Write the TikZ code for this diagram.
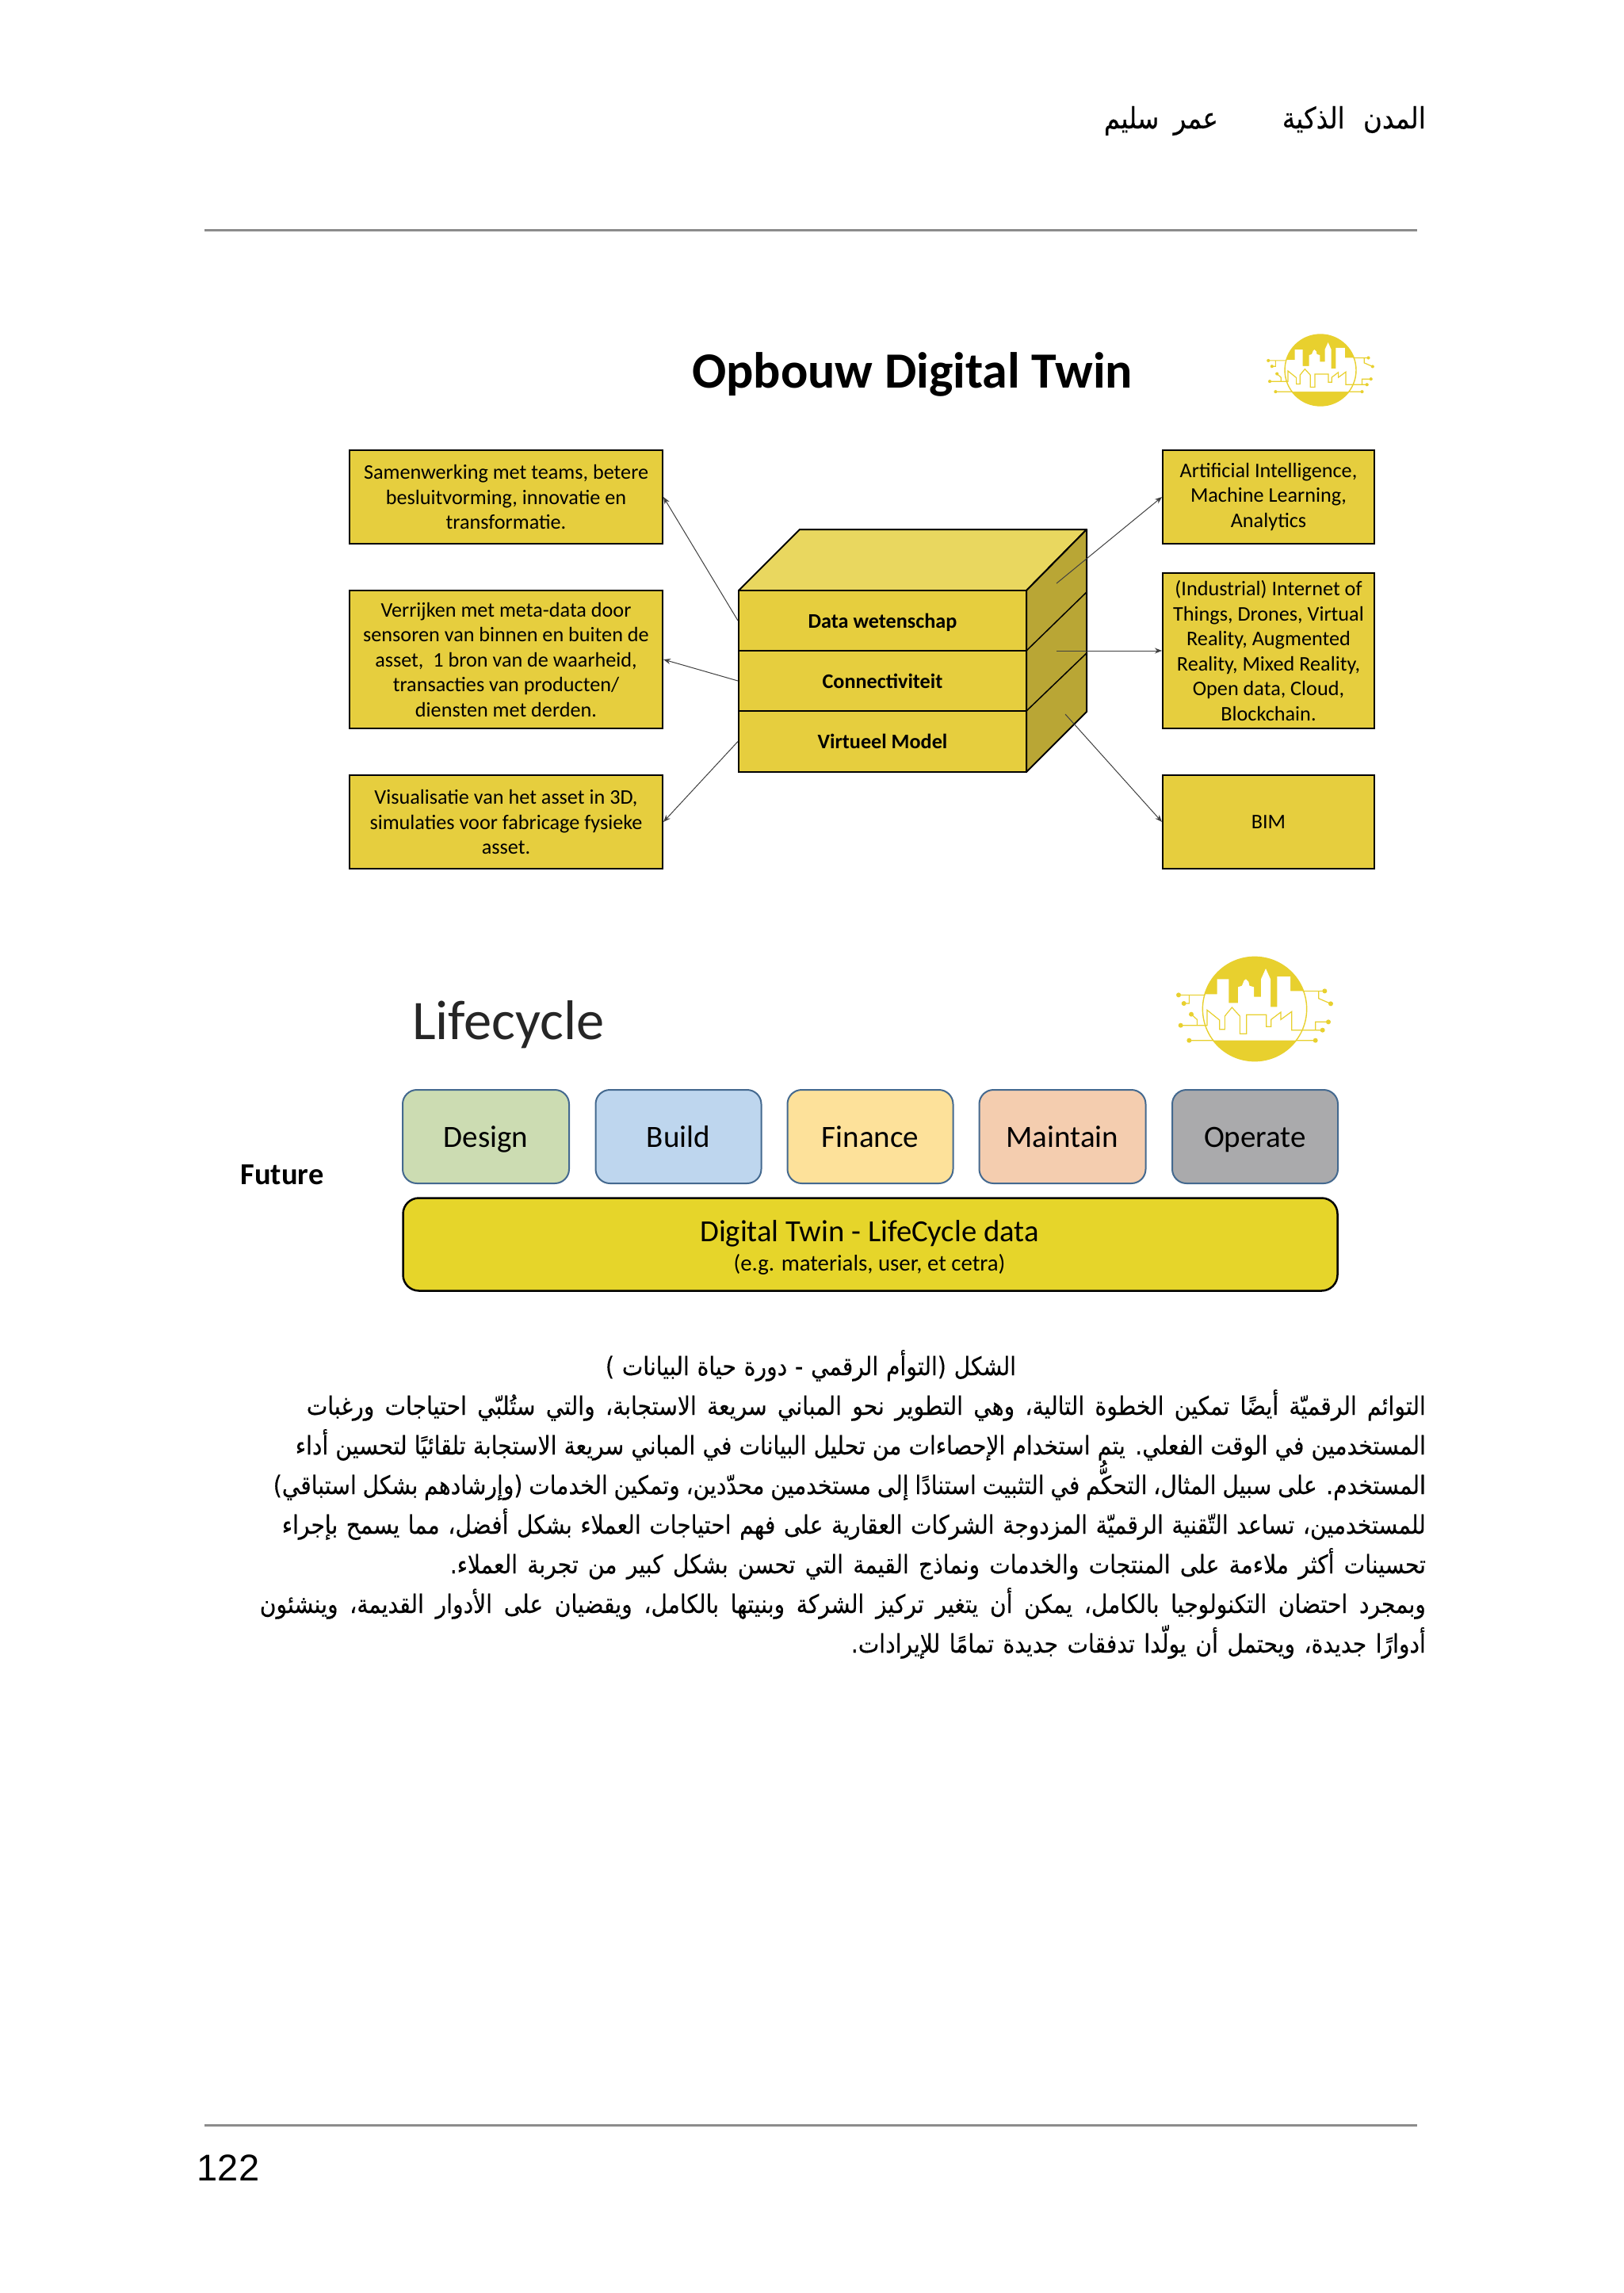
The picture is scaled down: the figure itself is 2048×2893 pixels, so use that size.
\documentclass[tikz,border=0pt]{standalone}
\usepackage{fontspec}
\usepackage{graphicx}
\usetikzlibrary{arrows.meta}
\setmainfont{Carlito}
\newfontfamily\arabicfont[Script=Arabic,FakeStretch=0.88,FakeBold=0.25]{DejaVu Sans}
\newfontfamily\numfont{Liberation Sans}
\TeXXeTstate=1
\hbadness=10000
\definecolor{boxyellow}{HTML}{E6CE3E}
\definecolor{topyellow}{HTML}{E9D75F}
\definecolor{sideyellow}{HTML}{B9A635}
\definecolor{logoyellow}{HTML}{E8D02E}
\definecolor{dtyellow}{HTML}{E6D52A}
\definecolor{rulegray}{HTML}{8C8C8C}
\definecolor{bluegray}{HTML}{44698F}
\tikzset{
  infobox/.style={draw=black,line width=2pt,fill=boxyellow,align=center,inner sep=0pt,text=black,
    font=\fontsize{26.2}{31.5}\selectfont},
  layerbox/.style={draw=black,line width=2pt,fill=boxyellow,inner sep=0pt,minimum width=363pt,
    text height=21pt,text depth=3pt,font=\bfseries\fontsize{26.2}{31}\selectfont},
  phasebox/.style={draw=bluegray,line width=2pt,rounded corners=18pt,inner sep=0pt,minimum height=118pt,
    text height=31pt,text depth=5pt,font=\fontsize{39}{46}\selectfont},
  linker/.style={draw=black!75,line width=1pt,-{Stealth[length=9pt,width=7pt]}},
  rulerline/.style={draw=rulegray,line width=3pt},
  arabicline/.style={inner sep=0pt,anchor=base east,text=black}
}
% {name}{baseline y}{width}{font size}{text}
\newcommand{\arline}[5]{\node[arabicline] (#1) at (1799,#2) {\hbox to #3pt{\fontsize{#4}{#4}\selectfont\arabicfont #5}};}
\newcommand{\citylogo}[3]{%
\begin{scope}[shift={(#1,#2)},scale=#3,line join=miter]
  \fill[logoyellow] (0,0) circle (197);
  \begin{scope}
    \clip (0,0) circle (197);
    \fill[white] (-200,-56) -- (-142,-56) -- (-142,-113) -- (-98,-113) -- (-98,-23) -- (-63,-23) -- (-63,-83) -- (-48,-88) -- (-40,-108) -- (-33,-113) -- (-23,-103) -- (-20,-88) -- (-3,-83) -- (-3,-46) -- (24,-46) -- (24,-113) -- (42,-153) -- (60,-113) -- (60,-8) -- (85,-8) -- (85,-123) -- (135,-123) -- (135,-68) -- (200,-68) -- (200,119) -- (-200,119) -- cycle;
  \end{scope}
  \draw[logoyellow,line width=1.4pt] (0,0) circle (197);
  \draw[logoyellow,line width=1.2pt]
    (-280,62) -- (-180,62) -- (-180,4) -- (-133,42) -- (-133,77) -- (-113,77) -- (-113,27) -- (-86,-6) -- (-56,27) -- (-56,94) -- (-31,94) -- (-31,22) -- (44,22) -- (44,67) -- (62,67) -- (62,40) -- (99,12) -- (99,40) -- (140,10) -- (140,80) -- (257,80)
    (-288,-53) -- (-188,-53)
    (-248,-53) -- (-248,-21) -- (-268,-21)
    (-240,20) -- (-218,40) -- (-218,62)
    (-248,119) -- (-158,119)
    (157,119) -- (230,119)
    (182,-68) -- (265,-68)
    (242,-68) -- (242,-40) -- (288,-20)
    (230,80) -- (230,49) -- (279,49);
  \foreach \p/\q in {-288/-53,-268/-21,-240/20,-280/62,-248/119,230/119,265/-68,288/-20,279/49,257/80}
    \fill[logoyellow] (\p,\q) circle (9);
\end{scope}}
\begin{document}
\begin{tikzpicture}[x=1pt,y=-1pt]
\fill[white,use as bounding box] (0,0) rectangle (2048,2893);

% page furniture
\arline{hdrA}{162}{181}{37}{\beginR المدن الذكية\endR}
\node[arabicline] (hdrC) at (1537,162) {\hbox to 144pt{\fontsize{37}{37}\selectfont\arabicfont\beginR عمر سليم\endR}};
\coordinate (ruleTopL) at (258,290);
\coordinate (ruleTopR) at (1788,290);
\draw[rulerline] (ruleTopL) -- (ruleTopR);
\coordinate (ruleBotL) at (258,2681);
\coordinate (ruleBotR) at (1788,2681);
\draw[rulerline] (ruleBotL) -- (ruleBotR);
\node[inner sep=0pt,font=\numfont\fontsize{47}{50}\selectfont] (pagenum) at (288,2735) {122};

% title
\node[inner sep=0pt,font=\bfseries\fontsize{64}{70}\selectfont] (title) at (1151,472) {Opbouw Digital Twin};
\citylogo{1666}{467}{0.2284}

% left boxes
\node[infobox,minimum width=395pt,minimum height=118pt] (b1) at (638.5,627) {Samenwerking met teams, betere\\besluitvorming, innovatie en\\transformatie.};
\node[infobox,minimum width=395pt,minimum height=174pt] (b2) at (638.5,832) {Verrijken met meta-data door\\sensoren van binnen en buiten de\\asset,\ \ 1 bron van de waarheid,\\transacties van producten/\\diensten met derden.};
\node[infobox,minimum width=395pt,minimum height=118pt] (b3) at (638.5,1037) {Visualisatie van het asset in 3D,\\simulaties voor fabricage fysieke\\asset.};

% right boxes
\node[infobox,minimum width=267pt,minimum height=118pt] (r1) at (1600.5,627) {Artificial Intelligence,\\Machine Learning,\\Analytics};
\node[infobox,minimum width=267pt,minimum height=196pt] (r2) at (1600.5,821) {(Industrial) Internet of\\Things, Drones, Virtual\\Reality, Augmented\\Reality, Mixed Reality,\\Open data, Cloud,\\Blockchain.};
\node[infobox,minimum width=267pt,minimum height=118pt] (r3) at (1600.5,1037) {BIM};

% cube
\draw[black,line width=2pt,fill=topyellow,line join=round] (932,745) -- (1009,668) -- (1371,668) -- (1295,745) -- cycle;
\draw[black,line width=2pt,fill=sideyellow,line join=round] (1295,745) -- (1371,668) -- (1371,898) -- (1295,974) -- cycle;
\draw[black,line width=1.5pt] (1295,821) -- (1371,747) (1295,897) -- (1371,824);
\node[layerbox,minimum height=76pt] (dw) at (1113.5,783) {Data wetenschap};
\node[layerbox,minimum height=76pt] (con) at (1113.5,859) {Connectiviteit};
\node[layerbox,minimum height=77pt] (vm) at (1113.5,935.5) {Virtueel Model};

% connectors
\coordinate (sideA) at (1333,736);
\coordinate (sideB) at (1333,821);
\coordinate (sideC) at (1344,901);
\draw[linker] (dw.west) -- (b1.east);
\draw[linker] (con.west) -- (b2.east);
\draw[linker] (vm.west) -- (b3.east);
\draw[linker] (sideA) -- (r1.west);
\draw[linker] (sideB) -- (r2.west);
\draw[linker] (sideC) -- (r3.west);

% lifecycle
\node[inner sep=0pt,anchor=west,font=\fontsize{70.5}{80}\selectfont,text=black!85] (lifecycle) at (520,1293) {Lifecycle};
\citylogo{1583}{1273}{0.3333}
\node[inner sep=0pt,font=\bfseries\fontsize{38.4}{44}\selectfont] (future) at (356,1482) {Future};
\node[phasebox,fill={rgb,255:red,204;green,220;blue,178},minimum width=210pt] (design) at (613,1434) {Design};
\node[phasebox,fill={rgb,255:red,190;green,214;blue,238},minimum width=209pt] (build) at (856,1434) {Build};
\node[phasebox,fill={rgb,255:red,253;green,225;blue,154},minimum width=209pt] (finance) at (1098,1434) {Finance};
\node[phasebox,fill={rgb,255:red,244;green,205;blue,175},minimum width=210pt] (maintain) at (1340.5,1434) {Maintain};
\node[phasebox,fill={rgb,255:red,170;green,170;blue,172},minimum width=209pt] (operate) at (1583.5,1434) {Operate};
\node[draw=black,line width=2.5pt,fill=dtyellow,rounded corners=20pt,minimum width=1179pt,minimum height=117pt,inner sep=0pt] (dt) at (1098,1570) {};
\node[inner sep=0pt,font=\fontsize{38.7}{44}\selectfont] (dtA) at (1097,1556) {Digital Twin - LifeCycle data};
\node[inner sep=0pt,font=\fontsize{28.8}{32}\selectfont] (dtB) at (1097,1595) {(e.g. materials, user, et cetra)};

% body text
\node[arabicline,anchor=base] (cap) at (1023,1735) {\hbox to 518pt{\fontsize{32}{32}\selectfont\arabicfont\beginR الشكل (التوأم الرقمي - دورة حياة البيانات )\endR}};
\arline{l1}{1785}{1412}{32}{\beginR التوائم الرقميّة أيضًا تمكين الخطوة التالية، وهي التطوير نحو المباني سريعة الاستجابة، والتي ستُلبّي احتياجات ورغبات\endR}
\arline{l2}{1835}{1426}{32}{\beginR المستخدمين في الوقت الفعلي. يتم استخدام الإحصاءات من تحليل البيانات في المباني سريعة الاستجابة تلقائيًا لتحسين أداء\endR}
\arline{l3}{1885}{1454}{32}{\beginR المستخدم. على سبيل المثال، التحكُّم في التثبيت استنادًا إلى مستخدمين محدّدين، وتمكين الخدمات (وإرشادهم بشكل استباقي)\endR}
\arline{l4}{1935}{1443}{32}{\beginR للمستخدمين، تساعد التّقنية الرقميّة المزدوجة الشركات العقارية على فهم احتياجات العملاء بشكل أفضل، مما يسمح بإجراء\endR}
\arline{l5}{1985}{1231}{32}{\beginR تحسينات أكثر ملاءمة على المنتجات والخدمات ونماذج القيمة التي تحسن بشكل كبير من تجربة العملاء.\endR}
\arline{l6}{2035}{1471}{32}{\beginR وبمجرد احتضان التكنولوجيا بالكامل، يمكن أن يتغير تركيز الشركة وبنيتها بالكامل، ويقضيان على الأدوار القديمة، وينشئون\endR}
\arline{l7}{2085}{725}{32}{\beginR أدوارًا جديدة، ويحتمل أن يولّدا تدفقات جديدة تمامًا للإيرادات.\endR}
\end{tikzpicture}
\end{document}
